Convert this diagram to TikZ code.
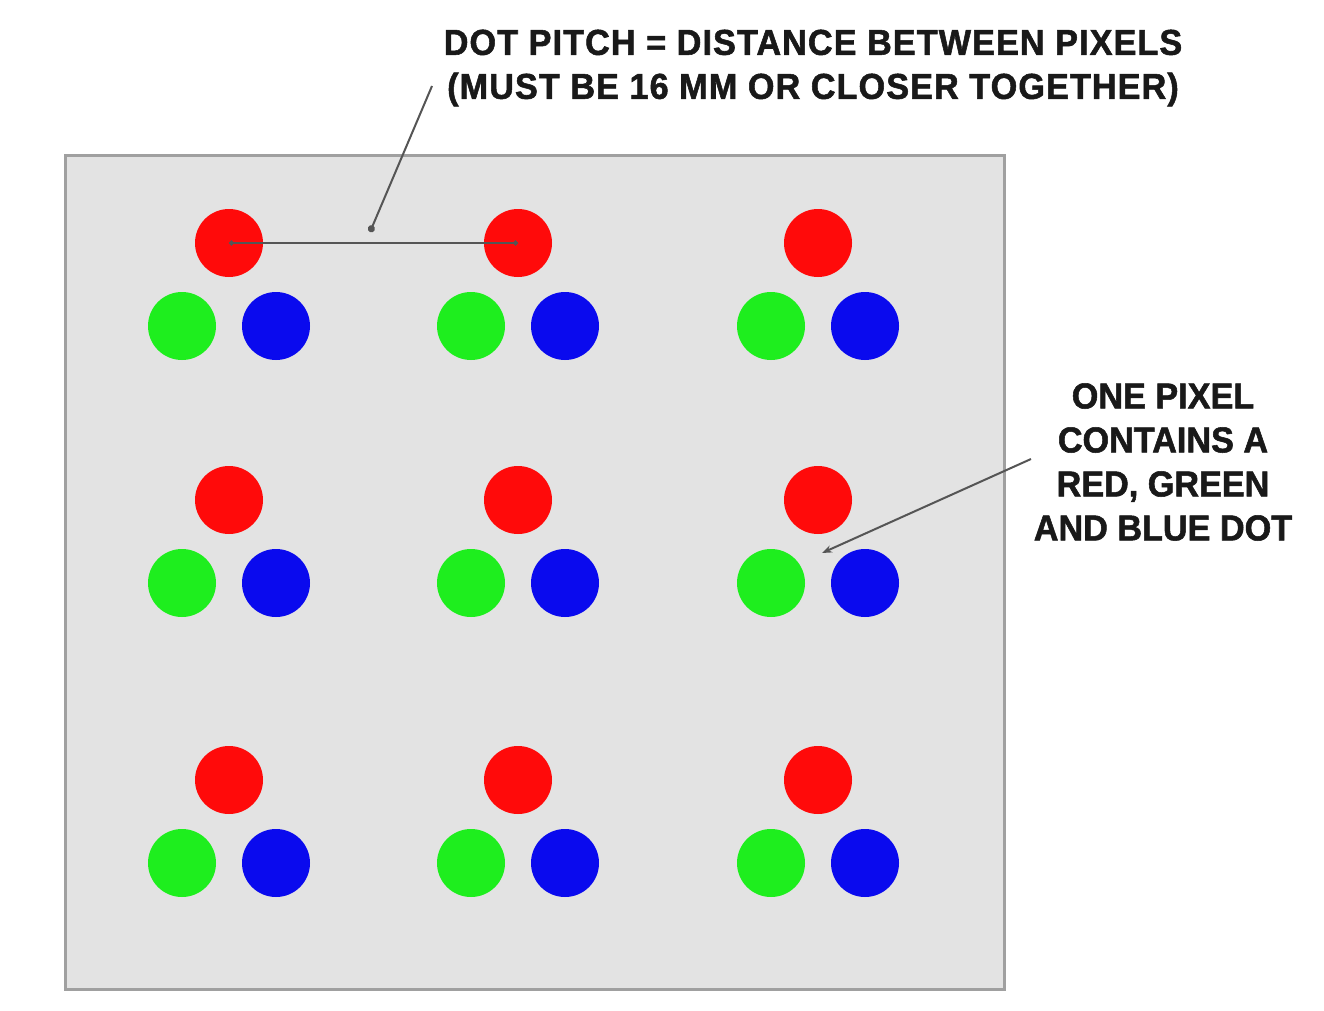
\documentclass[tikz,border=0pt]{standalone}
\usepackage{fontspec}
\setmainfont{Liberation Sans}[FakeStretch=0.95, BoldFeatures={FakeBold=1.5}]
\usetikzlibrary{calc,positioning,arrows.meta}
\definecolor{panelgray}{HTML}{E3E3E3}
\definecolor{edgegray}{HTML}{A0A0A0}
\definecolor{dotred}{HTML}{FF0A0A}
\definecolor{dotgreen}{HTML}{1EEE1E}
\definecolor{dotblue}{HTML}{0A0AEE}
\definecolor{leadgray}{HTML}{555555}
\tikzset{
  panel/.style={draw=edgegray, fill=panelgray, line width=3pt},
  rdot/.style={circle, fill=dotred, inner sep=0pt, minimum size=68pt},
  gdot/.style={circle, fill=dotgreen, inner sep=0pt, minimum size=68pt},
  bdot/.style={circle, fill=dotblue, inner sep=0pt, minimum size=68pt},
  lead/.style={draw=leadgray, line width=2pt},
  caption/.style={font=\bfseries\fontsize{36}{44}\selectfont, align=center, text=black!90, inner sep=0pt}
}

\begin{document}
\begin{tikzpicture}[x=1pt,y=-1pt]
  \useasboundingbox (0,0) rectangle (1324,1011);
  % screen
  \draw[panel] (65,156) rectangle (1004,989);
  % pixels
  \foreach \c/\px in {1/229,2/518,3/818}{
    \foreach \r/\py in {1/243,2/500,3/780}{
      \node[rdot] (r\c\r) at (\px,\py) {};
      \node[gdot] (g\c\r) at ($(r\c\r)+(-47,83)$) {};
      \node[bdot] (b\c\r) at ($(r\c\r)+(47,83)$) {};
    }
  }
  % dot pitch
  \draw[lead, {Circle[length=5pt]}-{Circle[length=5pt]}] (r11.center) -- (r21.center);
  \node[caption] (pitch) at (813,68) {\addfontfeature{LetterSpace=3}DOT PITCH = DISTANCE BETWEEN PIXELS\\\addfontfeature{LetterSpace=3}(MUST BE 16 MM OR CLOSER TOGETHER)};
  \coordinate (pitchtip) at (370,232);
  \draw[lead, -{Circle[length=7pt]}] (432,86) -- (pitchtip);
  % one pixel
  \node[caption] (pixel) at (1163,462) {ONE PIXEL\\CONTAINS A\\RED, GREEN\\AND BLUE DOT};
  \coordinate (pixeltip) at (822,553);
  \draw[lead, -{Stealth[length=10pt]}] (1031,459) -- (pixeltip);
\end{tikzpicture}
\end{document}
